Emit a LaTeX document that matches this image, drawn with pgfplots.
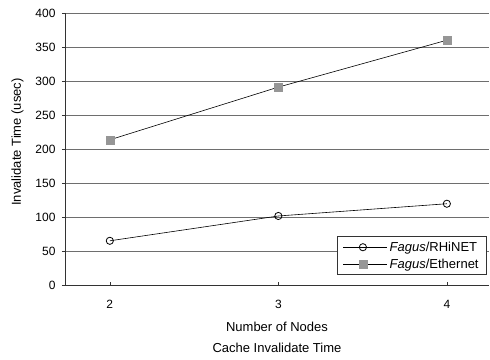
\documentclass[border=0pt]{standalone}
\usepackage{pgfplots}
\pgfplotsset{compat=1.18}
\usepackage{fontspec}
\setmainfont{Liberation Sans}
\definecolor{gridc}{RGB}{110,110,110}
\definecolor{sqc}{RGB}{150,150,150}
\begin{document}
\begin{tikzpicture}
\begin{axis}[
  scale only axis,
  width=424pt, height=272pt,
  xmin=1.734, xmax=4.25,
  ymin=0, ymax=400,
  axis x line=bottom, axis y line=left,
  axis line style={-, draw=black!80, line width=0.8pt},
  xtick={2,3,4},
  ytick={0,50,...,400},
  ymajorgrids,
  grid style={draw=gridc, line width=0.8pt},
  x tick style={draw=black!80, line width=0.6pt},
  xtick align=inside,
  ytick align=outside,
  major tick length=3pt,
  y tick style={draw=black!80, line width=0.6pt},
  /pgf/number format/assume math mode=true,
  tick label style={font=\fontsize{12}{14}\selectfont},
  xticklabel style={yshift=-12pt},
  yticklabel style={xshift=-3pt},
  xlabel={\begin{tabular}{c}Number of Nodes\\[6pt]Cache Invalidate Time\end{tabular}},
  xlabel style={font=\fontsize{13}{15}\selectfont, yshift=-5pt},
  ylabel={Invalidate Time (usec)},
  ylabel style={font=\fontsize{13}{15}\selectfont, yshift=5pt, xshift=7pt},
  legend style={at={(rel axis cs:1,0)}, anchor=south east, xshift=-2pt, yshift=10pt,
    draw=black!80, line width=0.8pt, font=\fontsize{13}{15}\selectfont,
    inner xsep=6pt, inner ysep=3pt, row sep=2pt},
  legend cell align=left,
  legend image code/.code={
    \path (0pt,0pt) -- (44pt,0pt);
    \draw[#1] (0pt,0pt) -- (39pt,0pt);
    \draw[#1] plot coordinates {(19.5pt,0pt)};
  },
]
\coordinate (sw) at (rel axis cs:0,0);
\addplot[black, line width=0.6pt, mark=o, mark size=3.6pt, mark options={fill=white, line width=0.8pt}]
  coordinates {(2,65) (3,101.5) (4,119.5)};
\addlegendentry{\textit{Fagus}/RHiNET}
\addplot[black, line width=0.6pt, mark=square*, mark size=4pt, mark options={fill=sqc, draw=sqc}]
  coordinates {(2,213.5) (3,291) (4,360)};
\addlegendentry{\textit{Fagus}/Ethernet}
\end{axis}
\pgfresetboundingbox
\path (sw) ++(-65pt,-74pt) rectangle ++(490pt,359pt);
\end{tikzpicture}
\end{document}
